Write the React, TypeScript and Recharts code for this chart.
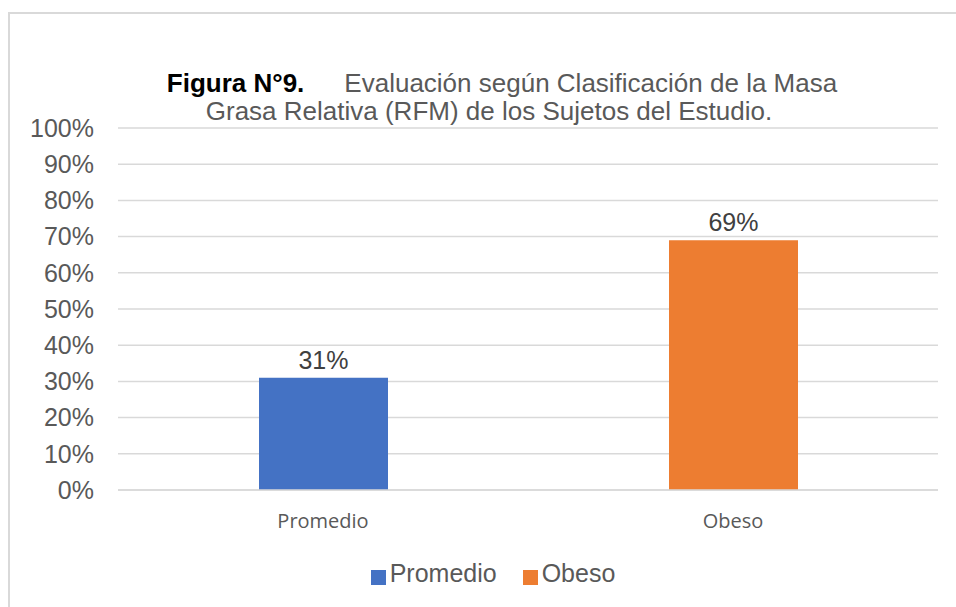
import React from 'react';
import { BarChart, Bar, XAxis, YAxis, CartesianGrid, Legend, LabelList } from 'recharts';

const categories = ['Promedio', 'Obeso'];
const promedioValues = [31, null];
const obesoValues = [null, 69];
const yTicks = [0, 10, 20, 30, 40, 50, 60, 70, 80, 90, 100];

const data = categories.map((name, i) => ({
  name,
  Promedio: promedioValues[i],
  Obeso: obesoValues[i],
}));

const BLUE = '#4472C4';
const ORANGE = '#ED7D31';
const TEXT = '#595959';

const renderValue = (props: any) => {
  const { x, y, width, value } = props;
  if (value === null || value === undefined) return null;
  return (
    <text
      x={x + width / 2}
      y={y - 9}
      textAnchor="middle"
      fill="#404040"
      fontSize={25}
      fontFamily="'Liberation Sans', Arial, sans-serif"
    >
      {value}%
    </text>
  );
};

export default function App() {
  return (
    <div
      style={{
        position: 'relative',
        width: 956,
        height: 607,
        overflow: 'hidden',
        background: '#fff',
        fontFamily: "'Liberation Sans', Arial, sans-serif",
      }}
    >
      <style>{`body{margin:0;overflow:hidden}`}</style>
      {/* chart frame */}
      <div
        style={{
          position: 'absolute',
          left: 8,
          top: 12,
          width: 980,
          height: 640,
          borderLeft: '2px solid #d9d9d9',
          borderTop: '2px solid #d9d9d9',
        }}
      />
      {/* title */}
      <div
        style={{
          position: 'absolute',
          left: 102,
          top: 69,
          width: 800,
          textAlign: 'center',
          fontSize: 26,
          lineHeight: '28px',
          color: TEXT,
          whiteSpace: 'nowrap',
        }}
      >
        <span style={{ fontWeight: 'bold', color: '#000' }}>Figura N°9.</span>
        <span style={{ paddingLeft: 40 }}>Evaluación según Clasificación de la Masa</span>
      </div>
      <div
        style={{
          position: 'absolute',
          left: 89,
          top: 97,
          width: 800,
          textAlign: 'center',
          fontSize: 26,
          lineHeight: '28px',
          color: TEXT,
          whiteSpace: 'nowrap',
        }}
      >
        Grasa Relativa (RFM) de los Sujetos del Estudio.
      </div>

      <div style={{ position: 'absolute', left: 0, top: 0 }}>
        <BarChart
          width={956}
          height={607}
          data={data}
          margin={{ top: 128, right: 18, left: 0, bottom: 0 }}
        >
          <CartesianGrid stroke="#d9d9d9" strokeWidth={1.5} vertical={false} />
          <XAxis
            dataKey="name"
            height={77}
            axisLine={{ stroke: '#d9d9d9', strokeWidth: 1.5 }}
            tickLine={false}
            tickMargin={18}
            tick={{ fill: TEXT, fontSize: 20, fontFamily: "'Open Sans', sans-serif" }}
          />
          <YAxis
            width={118}
            domain={[0, 100]}
            ticks={yTicks}
            interval={0}
            axisLine={false}
            tickLine={false}
            tickMargin={18}
            tickFormatter={(v: number) => `${v}%`}
            tick={{ fill: TEXT, fontSize: 25, fontFamily: "'Liberation Sans', Arial, sans-serif" }}
          />
          <Legend
            verticalAlign="bottom"
            iconType="square"
            iconSize={15}
            itemSorter={(item: any) => categories.indexOf(item.value)}
            wrapperStyle={{ top: 559, left: 29, width: 938, height: 40, bottom: 'auto' }}
            formatter={(value: string) => (
              <span style={{ color: TEXT, fontSize: 25, marginRight: value === categories[0] ? 16 : 0 }}>
                {value}
              </span>
            )}
          />
          <Bar dataKey="Promedio" stackId="a" fill={BLUE} barSize={129} isAnimationActive={false}>
            <LabelList dataKey="Promedio" content={renderValue} />
          </Bar>
          <Bar dataKey="Obeso" stackId="a" fill={ORANGE} barSize={129} isAnimationActive={false}>
            <LabelList dataKey="Obeso" content={renderValue} />
          </Bar>
        </BarChart>
      </div>
    </div>
  );
}
